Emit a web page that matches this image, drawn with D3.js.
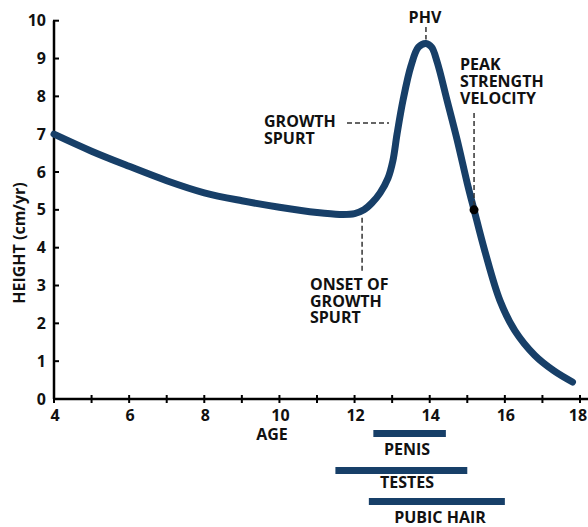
<!DOCTYPE html>
<html><head><meta charset="utf-8">
<script src="https://cdn.jsdelivr.net/npm/d3@7"></script>
<style>body{margin:0;background:#fff}svg{display:block}text{font-family:"Open Sans",sans-serif;font-weight:700;fill:#111}</style>
</head><body>
<script>
const ages = [4.0,5.0,6.0,7.0,8.0,9.0,10.0,11.0,11.6,12.0,12.25,12.46,12.68,12.89,13.02,13.13,13.29,13.5,13.7,13.9,14.05,14.2,14.46,14.73,15.0,15.18,15.47,15.87,16.27,16.8,17.3,17.8];
const velocity = [7.0,6.55,6.15,5.77,5.45,5.24,5.07,4.93,4.88,4.9,5.0,5.18,5.45,5.84,6.3,7.0,7.9,8.8,9.3,9.4,9.3,8.9,7.9,6.85,5.7,5.0,3.9,2.6,1.8,1.15,0.75,0.45];
const xTicks = [4,5,6,7,8,9,10,11,12,13,14,15,16,17,18];
const xTickLabels = [4,6,8,10,12,14,16,18];
const yTicks = [0,1,2,3,4,5,6,7,8,9,10];
const stages = ["PENIS","TESTES","PUBIC HAIR"];
const stageStart = [12.5,11.49,12.38];
const stageEnd = [14.43,15.0,16.0];
const psvAge = 15.18, psvVal = 5.0;
const phvAge = 13.9, phvVal = 9.4;
const onsetAge = 12.2, onsetVal = 4.95;

const W=588,H=527, navy="#173f68";
const svg=d3.select("body").append("svg").attr("width",W).attr("height",H);
const x=d3.scaleLinear().domain([4,18]).range([54,580]);
const y=d3.scaleLinear().domain([0,10]).range([399,20.7]);

// axes
svg.append("line").attr("x1",54).attr("x2",588).attr("y1",y(0)).attr("y2",y(0)).attr("stroke","#000").attr("stroke-width",2.5);
svg.append("line").attr("x1",54).attr("x2",54).attr("y1",y(0)).attr("y2",y(10)).attr("stroke","#000").attr("stroke-width",2.5);
svg.selectAll(".xt").data(xTicks).join("line").attr("x1",d=>x(d)).attr("x2",d=>x(d)).attr("y1",y(0)-4).attr("y2",y(0)+4).attr("stroke","#000").attr("stroke-width",2);
svg.selectAll(".yt").data(yTicks.slice(1)).join("line").attr("x1",53).attr("x2",59).attr("y1",d=>y(d)).attr("y2",d=>y(d)).attr("stroke","#000").attr("stroke-width",2);
svg.selectAll(".xl").data(xTickLabels).join("text").attr("x",d=>Math.min(x(d)+1,578)).attr("y",421).attr("text-anchor","middle").attr("font-size",16).text(d=>d);
svg.selectAll(".yl").data(yTicks).join("text").attr("x",46).attr("y",d=>y(d)+5.5).attr("text-anchor","end").attr("font-size",16).text(d=>d);
svg.append("text").attr("x",272).attr("y",440).attr("text-anchor","middle").attr("font-size",16).text("AGE");
svg.append("text").attr("transform","translate(25,243) rotate(-90)").attr("text-anchor","middle").attr("font-size",16).text("HEIGHT (cm/yr)");

// curve
const line=d3.line().x((d,i)=>x(ages[i])).y(d=>y(d)).curve(d3.curveCatmullRom.alpha(0.5));
svg.append("path").attr("d",line(velocity)).attr("fill","none").attr("stroke",navy).attr("stroke-width",7).attr("stroke-linecap","round");

// annotations
function dl(x1,y1,x2,y2){svg.append("line").attr("x1",x1).attr("y1",y1).attr("x2",x2).attr("y2",y2).attr("stroke","#333").attr("stroke-width",1.5).attr("stroke-dasharray","5,3");}
function ml(lines,x0,y0,lh){lines.forEach((t,i)=>svg.append("text").attr("x",x0).attr("y",y0+i*lh).attr("font-size",16).text(t));}
dl(x(phvAge),27,x(phvAge),y(phvVal)-4);
svg.append("text").attr("x",x(phvAge)-1).attr("y",23).attr("text-anchor","middle").attr("font-size",16).text("PHV");
dl(x(onsetAge),y(onsetVal)+6,x(onsetAge),273);
ml(["ONSET OF","GROWTH","SPURT"],310,290,16.5);
dl(347,123,389,123);
ml(["GROWTH","SPURT"],264,127,17);
dl(x(psvAge),113,x(psvAge),y(psvVal));
svg.append("circle").attr("cx",x(psvAge)).attr("cy",y(psvVal)).attr("r",4.5).attr("fill","#000");
ml(["PEAK","STRENGTH","VELOCITY"],460,70,17);

// maturation bars
const barY=[430,467,498], labY=[455,488,523], labX=[407,407,440];
stages.forEach((s,i)=>{
  svg.append("rect").attr("x",x(stageStart[i])).attr("y",barY[i]).attr("width",x(stageEnd[i])-x(stageStart[i])).attr("height",7).attr("fill",navy);
  svg.append("text").attr("x",labX[i]).attr("y",labY[i]).attr("text-anchor","middle").attr("font-size",16).text(s);
});
</script>
</body></html>
